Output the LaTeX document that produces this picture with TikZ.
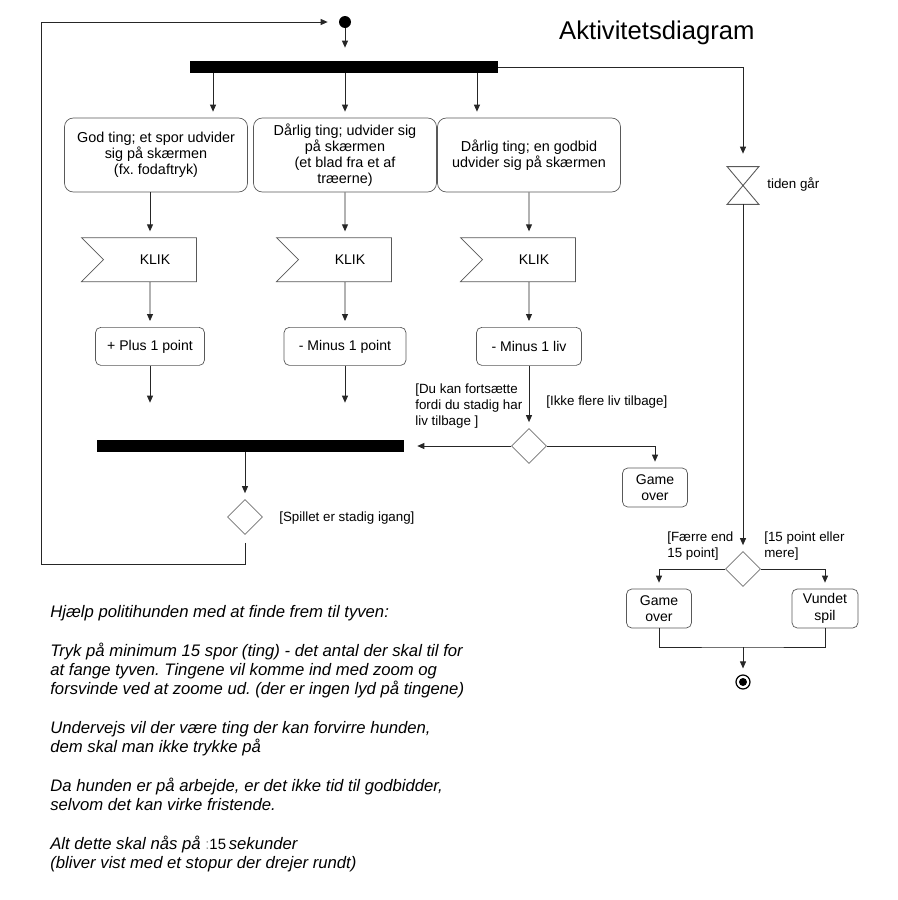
\documentclass[tikz,border=0pt]{standalone}
\usepackage{fontspec}
\setmainfont{Liberation Sans}
\frenchspacing
\usetikzlibrary{arrows.meta,positioning,shapes.geometric,shapes.symbols}
\tikzset{
  actbox/.style={
    rectangle,
    rounded corners=5pt,
    draw=black!65,
    fill=white,
    align=center,
    minimum width=36.6mm,
    minimum height=14.8mm,
    inner sep=1pt,
    font=\fontsize{8.2}{9.2}\selectfont
  },
  smallbox/.style={
    rectangle,
    rounded corners=3pt,
    draw=black!65,
    fill=white,
    align=center,
    minimum height=7.6mm,
    inner sep=1pt,
    font=\fontsize{8}{9.3}\selectfont
  },
  klik/.style={
    signal,
    signal from=west,
    signal to=nowhere,
    draw=black!65,
    fill=white,
    minimum width=23mm,
    minimum height=8.8mm,
    font=\fontsize{8}{9}\selectfont
  },
  bar/.style={rectangle, fill=black, inner sep=0pt, minimum height=2.4mm},
  decision/.style={
    diamond,
    draw=black!55,
    fill=white,
    inner sep=0pt,
    minimum width=7mm,
    minimum height=7mm
  },
  startnode/.style={circle, fill=black, inner sep=0pt, minimum size=2.4mm},
  endnode/.style={
    circle,
    draw=black,
    line width=.7pt,
    inner sep=0pt,
    minimum size=2.8mm,
    path picture={\fill (path picture bounding box.center) circle (0.8mm);}
  },
  timer/.style={rectangle, inner sep=0pt, minimum width=6.2mm, minimum height=7.4mm},
  guard/.style={align=left, inner sep=0pt, font=\fontsize{7.6}{9.2}\selectfont},
  flowline/.style={-{Triangle[length=1.4mm,width=1.2mm]}, line width=.5pt, draw=black!85, shorten >=1.2mm},
  plainline/.style={line width=.5pt, draw=black!85}
}

\begin{document}
\begin{tikzpicture}[x=0.02cm, y=-0.02cm, node distance=9mm]
  \useasboundingbox[fill=white] (0,0) rectangle (898,900);

  % top: start, fork and the three things on screen
  \node[anchor=west, font=\fontsize{14.6}{17}\selectfont] (title) at (553,33) {Aktivitetsdiagram};
  \node[startnode] (init) at (345,22) {};
  \node[bar, minimum width=61.6mm] (fork) at (344,67) {};
  \node[actbox] (box1) at (156,155) {God ting; et spor udvider\\sig på skærmen\\(fx. fodaftryk)};
  \node[actbox] (box2) at (345,155) {Dårlig ting; udvider sig\\på skærmen\\(et blad fra et af\\træerne)};
  \node[actbox] (box3) at (529,155) {Dårlig ting; en godbid\\udvider sig på skærmen};

  \node[klik, below=of box1, xshift=-1.2mm] (klik1) {\hspace*{2mm}KLIK};
  \node[klik, below=of box2] (klik2) {\hspace*{2mm}KLIK};
  \node[klik, below=of box3] (klik3) {\hspace*{2mm}KLIK};
  \node[smallbox, minimum width=21.8mm, below=of klik1] (pt1) {+ Plus 1 point};
  \node[smallbox, minimum width=24.4mm, below=of klik2] (pt2) {- Minus 1 point};
  \node[smallbox, minimum width=21mm, below=of klik3] (pt3) {- Minus 1 liv};

  % join and decisions
  \node[bar, minimum width=61.4mm] (join) at (250.5,446) {};
  \node[decision] (lives) at (529,446) {};
  \node[smallbox, minimum width=13mm, minimum height=7.8mm] (over1) at (655,487.5) {Game\\over};
  \node[decision] (going) at (245,517) {};
  \coordinate (loop) at (41,564);

  % right: time runs out
  \node[timer] (clock) at (743,185.5) {};
  \draw[black!65, line width=.5pt] (clock.north west) -- (clock.north east) -- (clock.south west) -- (clock.south east) -- cycle;
  \node[decision] (score) at (743,569) {};
  \node[smallbox, minimum width=13mm, minimum height=7.8mm] (over2) at (659,608.5) {Game\\over};
  \node[smallbox, minimum width=13.2mm, minimum height=7.8mm] (won) at (825,608.5) {Vundet\\spil};
  \coordinate (merge) at (743,647);
  \node[endnode] (final) at (743,682) {};

  % guards
  \node[guard, anchor=north west] (g1) at (415,383) {[Du kan fortsætte\\fordi du stadig har\\liv tilbage ]};
  \node[guard, anchor=west] (g2) at (546,402) {[Ikke flere liv tilbage]};
  \node[guard, anchor=west] (g3) at (279,518) {[Spillet er stadig igang]};
  \node[guard, anchor=west] (g4) at (767,184) {tiden går};
  \node[guard, anchor=north west] (g5) at (667,531) {[Færre end\\15 point]};
  \node[guard, anchor=north west] (g6) at (764,531) {[15 point eller\\mere]};

  % description
  \node[anchor=north west, align=left, inner sep=0pt, font=\fontsize{9.5}{11}\selectfont\itshape] (notes) at (50,605)
    {Hjælp politihunden med at finde frem til tyven:\\[11pt]
     Tryk på minimum 15 spor (ting) - det antal der skal til for\\
     at fange tyven. Tingene vil komme ind med zoom og\\
     forsvinde ved at zoome ud. (der er ingen lyd på tingene)\\[11pt]
     Undervejs vil der være ting der kan forvirre hunden,\\
     dem skal man ikke trykke på\\[11pt]
     Da hunden er på arbejde, er det ikke tid til godbidder,\\
     selvom det kan virke fristende.\\[11pt]
     Alt dette skal nås på {\upshape\fontsize{8.5}{11}\selectfont\textcolor{black!40}{:}15}\,sekunder\\
     (bliver vist med et stopur der drejer rundt)};

  % connectors
  \draw[flowline, shorten >=2.6mm] (init) -- (init |- fork.north);
  \draw[flowline] ([xshift=-26.2mm]fork.south) -- ([xshift=-26.2mm]fork.south |- box1.north);
  \draw[flowline] (fork.south -| box2) -- (box2.north);
  \draw[flowline] ([xshift=26.6mm]fork.south) -- ([xshift=26.6mm]fork.south |- box3.north);
  \draw[flowline, shorten >=2.6mm] (fork.east) -| (clock.north);
  \draw[flowline] (box1.south -| pt1) -- (klik1.north -| pt1);
  \draw[flowline] (box2) -- (klik2);
  \draw[flowline] (box3) -- (klik3);
  \draw[flowline] (klik1) -- (pt1);
  \draw[flowline] (klik2) -- (pt2);
  \draw[flowline] (klik3) -- (pt3);
  \draw[flowline, shorten >=7.4mm] (pt1) -- (pt1 |- join.north);
  \draw[flowline, shorten >=7.4mm] (pt2) -- (pt2 |- join.north);
  \draw[flowline] (pt3) -- (lives);
  \draw[flowline, shorten >=2.6mm] (lives.west) -- (join.east);
  \draw[flowline] (lives.east) -| (over1.north);
  \draw[flowline] (join.south -| going) -- (going.north);
  \draw[flowline, shorten <=1.6mm, shorten >=2.2mm] (going.south) |- (loop) |- (init.west);
  \draw[flowline] (clock) -- (score);
  \draw[flowline] (score.west) -| (over2.north);
  \draw[flowline] (score.east) -| (won.north);
  \draw[plainline] (over2.south) |- (merge) -| (won.south);
  \draw[flowline] (merge) -- (final);
\end{tikzpicture}
\end{document}
